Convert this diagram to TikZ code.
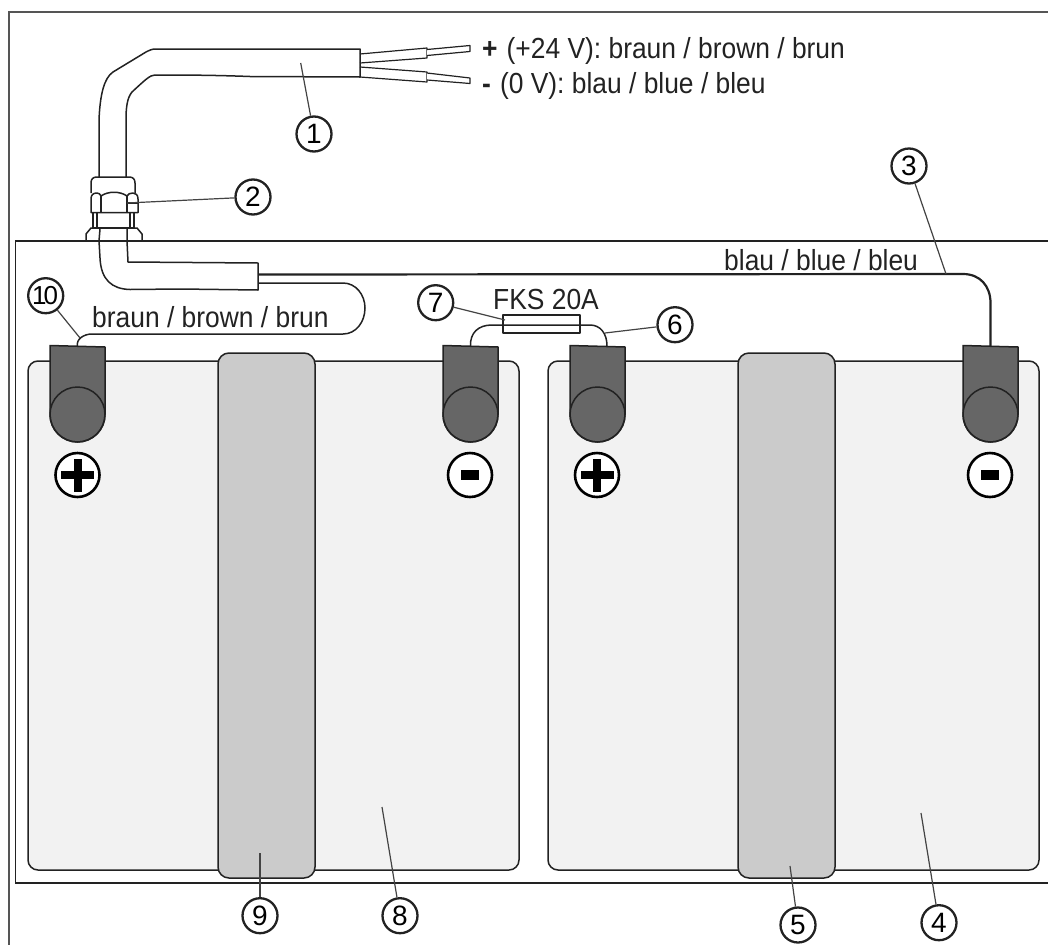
\documentclass[tikz,border=0pt]{standalone}
\usepackage{fontspec}
\setmainfont{Liberation Sans}
\definecolor{ink}{HTML}{222222}
\definecolor{framec}{HTML}{555555}
\definecolor{batt}{HTML}{F2F2F2}
\definecolor{strapc}{HTML}{CBCBCB}
\definecolor{term}{HTML}{666666}
\tikzset{
  line/.style={draw=ink,line width=1.5pt,line join=round},
  thinl/.style={draw=ink,line width=1.2pt,line join=round},
  leader/.style={draw=ink!85,line width=1.2pt},
  numc/.style={circle,draw=ink,line width=2.3pt,fill=white,minimum size=35pt,inner sep=0pt,font=\fontsize{28}{28}\selectfont},
  signc/.style={circle,draw=black,line width=2.6pt,fill=white,minimum size=44pt,inner sep=0pt},
  txt/.style={anchor=base west,inner sep=0pt,text=ink,yscale=1.1,transform shape,font=\fontsize{26.4}{26.4}\selectfont},
}
\begin{document}
\begin{tikzpicture}[x=1pt,y=-1pt]
\useasboundingbox (0,0) rectangle (1048,945);
% frames
\draw[framec,line width=2pt] (1048,12) -- (9,12) -- (9,945);
\draw[ink,line width=1.4pt] (1048,241) -- (15.5,241) -- (15.5,883) -- (1048,883);
% batteries
\draw[line,fill=batt,rounded corners=10pt] (28,361) rectangle (519,870);
\draw[line,fill=batt,rounded corners=10pt] (548,361) rectangle (1039,870);
\draw[line,fill=strapc,rounded corners=11pt] (218,353) rectangle (315,878);
\draw[line,fill=strapc,rounded corners=11pt] (738,353) rectangle (835,878);
% terminals
\foreach \cx/\nm in {77.5/ta,470.5/tb,597.5/tc,990.5/td}{
  \draw[line,fill=term] (\cx-27.5,345.5) -- (\cx+27.5,347) -- (\cx+27.5,414.5)
     arc[start angle=0,end angle=180,radius=27.5] -- cycle;
  \draw[line] (\cx,414.5) circle[radius=27.5];
  \coordinate (\nm) at (\cx,346);
}
% polarity signs
\node[signc] (pa) at (77.5,475) {};
\node[signc] (mb) at (470,475) {};
\node[signc] (pc) at (597,475) {};
\node[signc] (md) at (990,475) {};
\foreach \s in {pa,pc}{
  \fill[black] ([xshift=-16.5pt,yshift=-4pt]\s.center) rectangle ([xshift=16.5pt,yshift=4pt]\s.center);
  \fill[black] ([xshift=-4pt,yshift=-16.5pt]\s.center) rectangle ([xshift=4pt,yshift=16.5pt]\s.center);
}
\foreach \s in {mb,md}{
  \fill[black] ([xshift=-9.2pt,yshift=-4.6pt]\s.center) rectangle ([xshift=9.2pt,yshift=4.6pt]\s.center);
}
% inner cable
\draw[line,fill=white] (99,241) -- (100,258) .. controls (101,280) and (112,289) .. (130,289.5)
  -- (180,289) -- (258,290) -- (258,263) -- (128,262) -- (127,241);
% wires
\draw[draw=ink,line width=2.2pt] (258,274.5) -- (963,274) .. controls (980,274) and (990.5,286) .. (990.5,303) -- (td);
\draw[thinl,line width=1.5pt] (258,283) -- (343,283) .. controls (356,283) and (365,295) .. (365,308)
  .. controls (365,322) and (356,334) .. (343,334) -- (92,334) .. controls (84,334) and (76,339) .. (ta);
% fuse and link
\draw[thinl,line width=1.5pt] (tb) .. controls (470,333) and (478,325) .. (492,325) -- (590,325)
  .. controls (600,325) and (607,333) .. (607,346);
\draw[line,fill=none] (503,315) rectangle (580,333);
% outer cable
\draw[line,fill=white] (99,177) -- (99,120) .. controls (100,95) and (104,78) .. (113,72)
  -- (146,52) .. controls (150,50) and (152,49) .. (156,49) -- (360,49) -- (360,77) -- (250,76.5)
  .. controls (210,75) and (180,75) .. (155,75) .. controls (150,75) and (145,80) .. (132,92)
  .. controls (127,98) and (126,108) .. (126,120) -- (126,177);
% wires out of cable
\draw[thinl] (360,54) -- (427,48) -- (427,58) -- (360,63);
\draw[thinl] (360,67) -- (427,72) -- (427,82) -- (360,77);
\draw[thinl,fill=white] (427,49.5) -- (470,45.5) -- (470,51.5) -- (427,55.5);
\draw[thinl,fill=white] (427,73) -- (470,78) -- (470,83.5) -- (427,80);
% cable gland
\draw[line,fill=white] (91,193) -- (91,183) .. controls (91,179) and (93,177) .. (97,177) -- (129,177)
  .. controls (133,177) and (135,179) .. (135,183) -- (135,193);
\draw[line,fill=white] (93,212) rectangle (97,228);
\draw[line,fill=white] (130,212) rectangle (134,228);
\draw[line,fill=white] (97,212) rectangle (130,228);
\draw[line,fill=white] (91,212.5) -- (91,199) .. controls (91,195) and (93,193) .. (97,193)
  .. controls (99,193) and (100,194) .. (101,196) .. controls (108,191) and (120,191) .. (127,196)
  .. controls (128,194) and (130,193) .. (133,193) .. controls (136,193) and (138,195) .. (138,199)
  -- (138,212.5) -- cycle;
\draw[line] (101,196) -- (101,212.5) (127,196) -- (127,212.5) (127,203) -- (138,203);
\draw[line,fill=white] (86,241) -- (86,234) -- (91,228) -- (137,228) -- (142,234) -- (142,241);
\draw[line] (100,229) -- (99,241) (127,229) -- (127,241);
\draw[ink,line width=1.4pt] (86,241) -- (142,241);
% leader anchor coordinates
\coordinate (l1) at (300.7,63);
\coordinate (l2) at (127,203);
\coordinate (l3) at (946,274);
\coordinate (l4) at (921,813);
\coordinate (l5) at (790,866);
\coordinate (l6) at (605,333);
\coordinate (l7) at (505,320);
\coordinate (l8) at (382,807);
\coordinate (l9) at (260,853);
\coordinate (l10) at (80,338);
% numbered callouts
\node[numc] (n1) at (314,134) {1};
\node[numc] (n2) at (253,197) {2};
\node[numc] (n3) at (909,166) {3};
\node[numc] (n4) at (939,922.7) {4};
\node[numc] (n5) at (798,925) {5};
\node[numc] (n6) at (675,324.7) {6};
\node[numc] (n7) at (435.7,302.7) {7};
\node[numc] (n8) at (400,915.7) {8};
\node[numc] (n9) at (260,915.7) {9};
\node[numc] (n10) at (45.7,295.7) {\fontsize{26}{26}\selectfont\kern-1pt 1\kern-3pt 0};
\foreach \i in {1,...,10}{ \draw[leader] (n\i) -- (l\i); }
% texts
\node[txt] (t1) at (482,58) {\textbf{+}\kern9pt(+24 V): braun / brown / brun};
\node[txt] (t2) at (482,93) {\textbf{-}\kern9pt(0 V): blau / blue / bleu};
\node[txt] (t3) at (724,270) {blau / blue / bleu};
\node[txt] (t4) at (92,327) {braun / brown / brun};
\node[txt] (t5) at (493,309) {FKS 20A};
\end{tikzpicture}
\end{document}
